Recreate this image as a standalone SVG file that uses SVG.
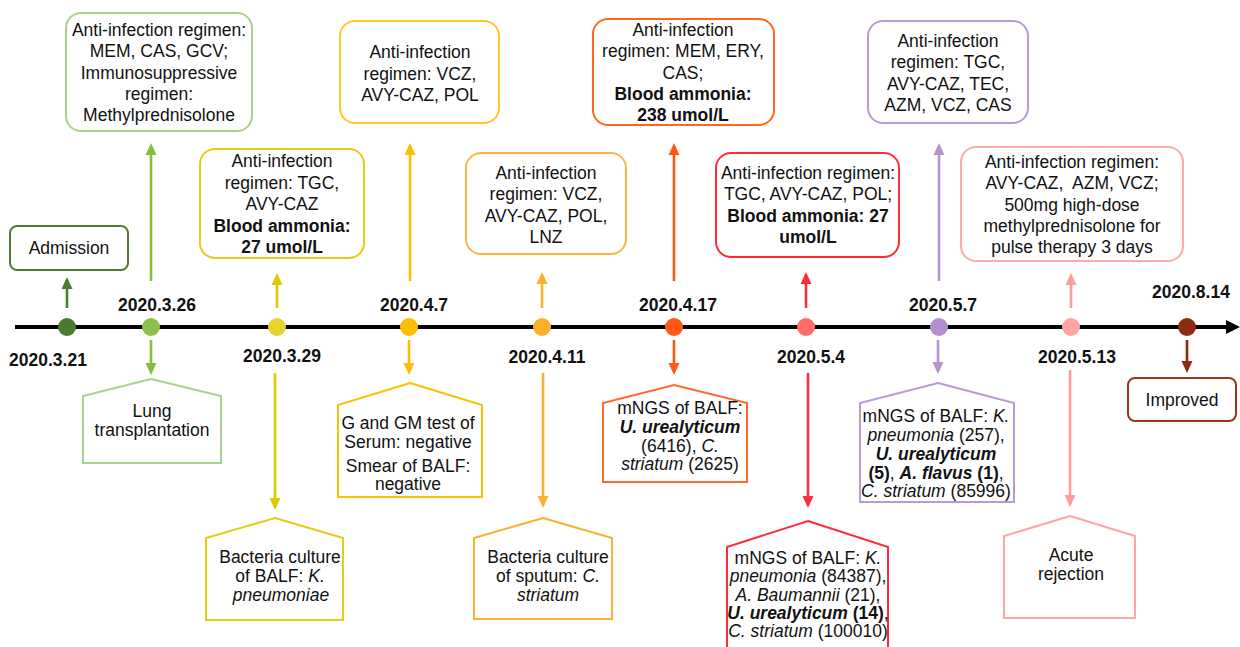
<svg xmlns="http://www.w3.org/2000/svg" width="1240" height="647" viewBox="0 0 1240 647">
<style>
text{font-family:"Liberation Sans",Arial,sans-serif;font-size:17.5px;fill:#111;text-anchor:middle}
.d{font-weight:bold}
.b{font-weight:bold}
.i{font-style:italic}
.bi{font-weight:bold;font-style:italic}
.box{fill:#fff;stroke-width:2}
.pent{fill:#fff;stroke-width:2}
.ar{stroke-width:2.6;fill:none}
</style>
<defs>
<marker id="mDG" markerUnits="userSpaceOnUse" markerWidth="12" markerHeight="12" viewBox="0 0 12 12" refX="9" refY="6" orient="auto"><path d="M0,0.5 L12,6 L0,11.5 z" fill="#4f7c35"/></marker>
<marker id="mG" markerUnits="userSpaceOnUse" markerWidth="12" markerHeight="12" viewBox="0 0 12 12" refX="9" refY="6" orient="auto"><path d="M0,0.5 L12,6 L0,11.5 z" fill="#85bd3f"/></marker>
<marker id="mY" markerUnits="userSpaceOnUse" markerWidth="12" markerHeight="12" viewBox="0 0 12 12" refX="9" refY="6" orient="auto"><path d="M0,0.5 L12,6 L0,11.5 z" fill="#e2c800"/></marker>
<marker id="mO" markerUnits="userSpaceOnUse" markerWidth="12" markerHeight="12" viewBox="0 0 12 12" refX="9" refY="6" orient="auto"><path d="M0,0.5 L12,6 L0,11.5 z" fill="#ffbd00"/></marker>
<marker id="mO2" markerUnits="userSpaceOnUse" markerWidth="12" markerHeight="12" viewBox="0 0 12 12" refX="9" refY="6" orient="auto"><path d="M0,0.5 L12,6 L0,11.5 z" fill="#fbb034"/></marker>
<marker id="mR" markerUnits="userSpaceOnUse" markerWidth="12" markerHeight="12" viewBox="0 0 12 12" refX="9" refY="6" orient="auto"><path d="M0,0.5 L12,6 L0,11.5 z" fill="#ff5a14"/></marker>
<marker id="mR2" markerUnits="userSpaceOnUse" markerWidth="12" markerHeight="12" viewBox="0 0 12 12" refX="9" refY="6" orient="auto"><path d="M0,0.5 L12,6 L0,11.5 z" fill="#ff2d3c"/></marker>
<marker id="mP" markerUnits="userSpaceOnUse" markerWidth="12" markerHeight="12" viewBox="0 0 12 12" refX="9" refY="6" orient="auto"><path d="M0,0.5 L12,6 L0,11.5 z" fill="#b693cc"/></marker>
<marker id="mPk" markerUnits="userSpaceOnUse" markerWidth="12" markerHeight="12" viewBox="0 0 12 12" refX="9" refY="6" orient="auto"><path d="M0,0.5 L12,6 L0,11.5 z" fill="#ff9c9c"/></marker>
<marker id="mB" markerUnits="userSpaceOnUse" markerWidth="12" markerHeight="12" viewBox="0 0 12 12" refX="9" refY="6" orient="auto"><path d="M0,0.5 L12,6 L0,11.5 z" fill="#8c2a12"/></marker>
</defs>
<rect width="1240" height="647" fill="#fff"/>

<g id="connectors">
<line x1="15" y1="327" x2="1230" y2="327" stroke="#000" stroke-width="4"/>
<path d="M1226,320 L1240,327 L1226,334 z" fill="#000"/>
<line class="ar" x1="67" y1="308" x2="67" y2="280" stroke="#4f7c35" marker-end="url(#mDG)"/>
<line class="ar" x1="151" y1="281" x2="151" y2="146" stroke="#85bd3f" marker-end="url(#mG)"/>
<line class="ar" x1="151" y1="340" x2="151" y2="372" stroke="#85bd3f" marker-end="url(#mG)"/>
<line class="ar" x1="277" y1="308" x2="277" y2="276" stroke="#e2c800" marker-end="url(#mY)"/>
<line class="ar" x1="275" y1="373" x2="275" y2="507" stroke="#e2c800" marker-end="url(#mY)"/>
<line class="ar" x1="410" y1="281" x2="410" y2="146" stroke="#ffbd00" marker-end="url(#mO)"/>
<line class="ar" x1="409" y1="340" x2="409" y2="372" stroke="#ffbd00" marker-end="url(#mO)"/>
<line class="ar" x1="542" y1="308" x2="542" y2="275" stroke="#fbb034" marker-end="url(#mO2)"/>
<line class="ar" x1="543" y1="373" x2="543" y2="505" stroke="#fbb034" marker-end="url(#mO2)"/>
<line class="ar" x1="674" y1="281" x2="674" y2="146" stroke="#ff5a14" marker-end="url(#mR)"/>
<line class="ar" x1="674" y1="340" x2="674" y2="372" stroke="#ff5a14" marker-end="url(#mR)"/>
<line class="ar" x1="806" y1="308" x2="806" y2="275" stroke="#ff2d3c" marker-end="url(#mR2)"/>
<line class="ar" x1="808" y1="373" x2="808" y2="505" stroke="#ff2d3c" marker-end="url(#mR2)"/>
<line class="ar" x1="939" y1="281" x2="939" y2="146" stroke="#b693cc" marker-end="url(#mP)"/>
<line class="ar" x1="938" y1="340" x2="938" y2="371" stroke="#b693cc" marker-end="url(#mP)"/>
<line class="ar" x1="1071" y1="308" x2="1071" y2="276" stroke="#ff9c9c" marker-end="url(#mPk)"/>
<line class="ar" x1="1070" y1="370" x2="1070" y2="504" stroke="#ff9c9c" marker-end="url(#mPk)"/>
<line class="ar" x1="1187" y1="340" x2="1187" y2="370" stroke="#8c2a12" marker-end="url(#mB)"/>
</g>

<g id="dots">
<circle cx="67" cy="327" r="9" fill="#4a7a2c"/>
<circle cx="151" cy="327" r="9" fill="#8cc04a"/>
<circle cx="277" cy="327" r="9" fill="#e8d52c"/>
<circle cx="409" cy="327" r="9" fill="#ffbd00"/>
<circle cx="542" cy="327" r="9" fill="#fdb02c"/>
<circle cx="674" cy="327" r="9" fill="#ff5714"/>
<circle cx="806" cy="327" r="9" fill="#ff6b6b"/>
<circle cx="939" cy="327" r="9" fill="#b48fcb"/>
<circle cx="1071" cy="327" r="9" fill="#ffa3a3"/>
<circle cx="1187" cy="327" r="9" fill="#8c2a12"/>
</g>

<g id="dates">
<text class="d" x="48" y="366">2020.3.21</text>
<text class="d" x="157" y="311">2020.3.26</text>
<text class="d" x="282" y="362">2020.3.29</text>
<text class="d" x="414" y="311">2020.4.7</text>
<text class="d" x="547" y="363">2020.4.11</text>
<text class="d" x="678" y="311">2020.4.17</text>
<text class="d" x="811" y="363">2020.5.4</text>
<text class="d" x="943" y="311">2020.5.7</text>
<text class="d" x="1077" y="363">2020.5.13</text>
<text class="d" x="1191" y="298">2020.8.14</text>
</g>

<g id="n-admission">
<rect class="box" x="10" y="226" width="118" height="44" rx="7" stroke="#4f7c35"/>
<text x="69" y="254">Admission</text>
</g>

<g id="n-0326-up">
<rect class="box" x="66" y="13" width="186" height="118" rx="15" stroke="#a9d08e"/>
<text x="159" y="36">Anti-infection regimen:</text>
<text x="159" y="57.3">MEM, CAS, GCV;</text>
<text x="159" y="78.6">Immunosuppressive</text>
<text x="159" y="99.9">regimen:</text>
<text x="159" y="121.2">Methylprednisolone</text>
</g>

<g id="n-0326-down">
<polygon class="pent" points="151,379 221,396 221,463 83,463 83,396" stroke="#a9d18e"/>
<text x="152" y="417">Lung</text>
<text x="152" y="436">transplantation</text>
</g>

<g id="n-0329-up">
<rect class="box" x="200" y="149" width="164" height="109" rx="15" stroke="#e5cc17"/>
<text x="282" y="167">Anti-infection</text>
<text x="282" y="188.5">regimen: TGC,</text>
<text x="282" y="210">AVY-CAZ</text>
<text class="b" x="282" y="231.5">Blood ammonia:</text>
<text class="b" x="282" y="253">27 umol/L</text>
</g>

<g id="n-0329-down">
<polygon class="pent" points="275,518 343,538 343,620 206,620 206,538" stroke="#e5cc17"/>
<text x="280" y="563">Bacteria culture</text>
<text x="280" y="582">of BALF: <tspan class="i">K.</tspan></text>
<text class="i" x="281" y="601">pneumoniae</text>
</g>

<g id="n-0407-up">
<rect class="box" x="340" y="21" width="159" height="102" rx="15" stroke="#ffc82c"/>
<text x="420" y="58">Anti-infection</text>
<text x="420" y="79.5">regimen: VCZ,</text>
<text x="420" y="101">AVY-CAZ, POL</text>
</g>

<g id="n-0407-down">
<polygon class="pent" points="410,383 482,405 482,497 338,497 338,405" stroke="#ffc000"/>
<text x="408" y="429">G and GM test of</text>
<text x="408" y="448">Serum: negative</text>
<text x="408" y="472">Smear of BALF:</text>
<text x="408" y="490">negative</text>
</g>

<g id="n-0411-up">
<rect class="box" x="466" y="153" width="160" height="101" rx="15" stroke="#fdb548"/>
<text x="546" y="179">Anti-infection</text>
<text x="546" y="200.3">regimen: VCZ,</text>
<text x="546" y="221.6">AVY-CAZ, POL,</text>
<text x="546" y="243">LNZ</text>
</g>

<g id="n-0411-down">
<polygon class="pent" points="543,518 612,538 612,619 474,619 474,538" stroke="#fbb034"/>
<text x="548" y="563">Bacteria culture</text>
<text x="548" y="582">of sputum: <tspan class="i">C.</tspan></text>
<text class="i" x="548" y="601">striatum</text>
</g>

<g id="n-0417-up">
<rect class="box" x="593" y="19" width="181" height="106" rx="15" stroke="#ff6624"/>
<text x="683" y="36">Anti-infection</text>
<text x="683" y="57.3">regimen: MEM, ERY,</text>
<text x="683" y="78.6">CAS;</text>
<text class="b" x="683" y="99.9">Blood ammonia:</text>
<text class="b" x="683" y="121.2">238 umol/L</text>
</g>

<g id="n-0417-down">
<polygon class="pent" points="674,385 747,403 747,482 603,482 603,403" stroke="#ff6a2c"/>
<text x="680" y="414">mNGS of BALF:</text>
<text class="bi" x="680" y="433">U. urealyticum</text>
<text x="680" y="452">(6416), <tspan class="i">C.</tspan></text>
<text x="680" y="470"><tspan class="i">striatum</tspan> (2625)</text>
</g>

<g id="n-0504-up">
<rect class="box" x="716" y="153" width="183" height="104" rx="15" stroke="#ff2a35"/>
<text x="808" y="179">Anti-infection regimen:</text>
<text x="808" y="200.3">TGC, AVY-CAZ, POL;</text>
<text class="b" x="808" y="221.6">Blood ammonia: 27</text>
<text class="b" x="808" y="243">umol/L</text>
</g>

<g id="n-0504-down">
<polygon class="pent" points="808,521 888,547 888,660 727,660 727,547" stroke="#ff2d3c"/>
<text x="808" y="564">mNGS of BALF: <tspan class="i">K.</tspan></text>
<text x="808" y="582"><tspan class="i">pneumonia</tspan> (84387),</text>
<text x="808" y="601"><tspan class="i">A. Baumannii</tspan> (21),</text>
<text x="808" y="619"><tspan class="bi">U. urealyticum</tspan><tspan class="b"> (14)</tspan>,</text>
<text x="808" y="637"><tspan class="i">C. striatum</tspan> (100010)</text>
</g>

<g id="n-0507-up">
<rect class="box" x="868" y="21" width="160" height="102" rx="15" stroke="#b99ad2"/>
<text x="948" y="47">Anti-infection</text>
<text x="948" y="68.3">regimen: TGC,</text>
<text x="948" y="89.6">AVY-CAZ, TEC,</text>
<text x="948" y="111">AZM, VCZ, CAS</text>
</g>

<g id="n-0507-down">
<polygon class="pent" points="938,383 1014,403 1014,502 860,502 860,403" stroke="#b99ad2"/>
<text x="936" y="422">mNGS of BALF: <tspan class="i">K.</tspan></text>
<text x="936" y="441"><tspan class="i">pneumonia</tspan> (257),</text>
<text class="bi" x="936" y="460">U. urealyticum</text>
<text x="936" y="479"><tspan class="b">(5)</tspan>, <tspan class="bi">A. flavus</tspan><tspan class="b"> (1)</tspan>,</text>
<text x="936" y="497"><tspan class="i">C. striatum</tspan> (85996)</text>
</g>

<g id="n-0513-up">
<rect class="box" x="961" y="147" width="222" height="114" rx="15" stroke="#ffa8a8"/>
<text x="1072" y="168">Anti-infection regimen:</text>
<text x="1072" y="189.3" style="white-space:pre">AVY-CAZ,  AZM, VCZ;</text>
<text x="1072" y="210.6">500mg high-dose</text>
<text x="1072" y="231.9">methylprednisolone for</text>
<text x="1072" y="253">pulse therapy 3 days</text>
</g>

<g id="n-0513-down">
<polygon class="pent" points="1070,516 1135,536 1135,618 1004,618 1004,536" stroke="#ffa3a3"/>
<text x="1071" y="561">Acute</text>
<text x="1071" y="580">rejection</text>
</g>

<g id="n-improved">
<rect class="box" x="1128" y="378" width="108" height="43" rx="7" stroke="#9a3520"/>
<text x="1182" y="406">Improved</text>
</g>
</svg>
